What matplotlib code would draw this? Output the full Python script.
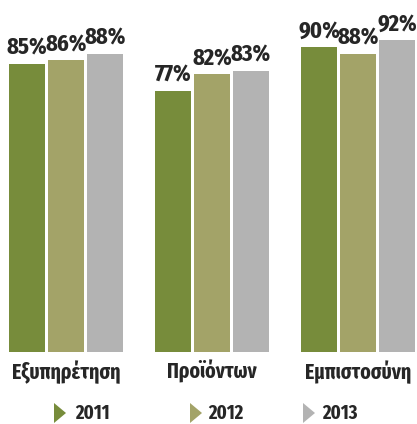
import matplotlib.pyplot as plt
from matplotlib.patches import Polygon

# data
categories = ['Εξυπηρέτηση', 'Προϊόντων', 'Εμπιστοσύνη']
years = ['2011', '2012', '2013']
values_2011 = [85, 77, 90]
values_2012 = [86, 82, 88]
values_2013 = [88, 83, 92]
series = [values_2011, values_2012, values_2013]

colors = ['#778c3b', '#a3a368', '#b3b3b3']
text_color = '#262626'

plt.rcParams['font.family'] = ['Fira Sans Extra Condensed', 'DejaVu Sans']
plt.rcParams['font.weight'] = 'bold'

W, H = 417, 424
fig = plt.figure(figsize=(W / 100, H / 100), dpi=100)

# axes: bottom of bars 352 px from top, 3.39 px per percent
ax = fig.add_axes([0, (H - 352) / H, 1, 352 / H])
ax.set_xlim(-66 / 146, (W - 66) / 146)
ax.set_ylim(0, 352 / 3.39)
ax.axis('off')

bar_w = 36 / 146
step = 39 / 146
px = 72 / 100  # points per pixel

for i, vals in enumerate(series):
    xs = [g + (i - 1) * step for g in range(len(categories))]
    ax.bar(xs, vals, width=bar_w, color=colors[i], linewidth=0)
    for x, v in zip(xs, vals):
        ax.annotate(f'{v}%', (x, v), xytext=(0, 9 * px), textcoords='offset points',
                    ha='center', va='baseline', fontsize=17.5, color=text_color,
                    fontweight='bold')

for g, cat in enumerate(categories):
    ax.annotate(cat, (g, 0), xytext=(0, -27 * px), textcoords='offset points',
                ha='center', va='baseline', fontsize=15.5, color=text_color,
                fontweight='bold', annotation_clip=False)

# legend (manual)
tri_left = [54, 190, 303]
txt_left = [75, 208, 322]
cy = 413
for i, yr in enumerate(years):
    x0 = tri_left[i]
    verts = [((x0) / 100, (H - cy + 10) / 100),
             ((x0 + 12) / 100, (H - cy) / 100),
             ((x0) / 100, (H - cy - 10) / 100)]
    fig.add_artist(Polygon(verts, closed=True, facecolor=colors[i], edgecolor='none',
                           transform=fig.dpi_scale_trans))
    fig.text(txt_left[i] / W, (H - 419) / H, yr, ha='left', va='baseline',
             fontsize=14.5, color=text_color, fontweight='bold')

fig.savefig('out.png', dpi=100)
